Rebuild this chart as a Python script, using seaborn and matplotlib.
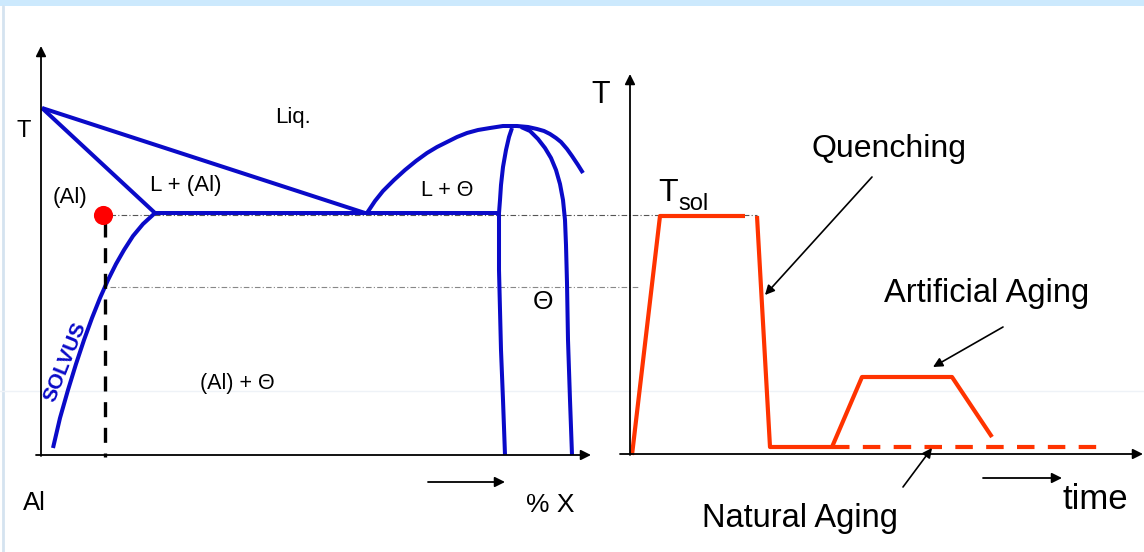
import numpy as np
import pandas as pd
import matplotlib
matplotlib.use("Agg")
import matplotlib.pyplot as plt
import seaborn as sns

# === Curves (pixel units, y grows downward) ===
liquidus_al_x = [42, 365]
liquidus_al_y = [108, 213]
solidus_x = [42, 155]
solidus_y = [108, 213]
eutectic_x = [155, 498]
eutectic_y = [213, 213]
solvus_x = [155, 143, 133, 124, 116, 108, 100, 92, 84, 76, 68, 60, 53]
solvus_y = [213, 224, 236, 250, 264, 280, 298, 318, 340, 364, 390, 418, 448]
liquidus_th_x = [367, 375, 383, 394, 405, 416, 427, 437, 447, 457, 467, 478, 490,
                 503, 517, 528, 537, 544, 550, 556, 561, 567, 572, 578, 583]
liquidus_th_y = [213, 201, 191, 180, 170, 161, 153, 147, 142, 137, 133, 130, 128,
                 126, 126, 127, 129, 131, 134, 138, 142, 149, 156, 165, 173]
theta_left_x = [512, 509, 506, 503, 501, 500, 499, 499, 499, 500, 501, 503, 505]
theta_left_y = [128, 137, 150, 167, 185, 200, 213, 240, 270, 310, 350, 400, 455]
theta_right_x = [521, 530, 538, 545, 551, 556, 560, 563, 565, 566, 567, 568, 570, 572]
theta_right_y = [127, 131, 139, 148, 158, 170, 184, 200, 220, 245, 283, 340, 400, 455]

# heat treatment path (time, T)
heat_x = [632, 660, 745]
heat_y = [455, 216, 216]
quench_x = [757, 770, 832, 862, 952, 992]
quench_y = [216, 447, 447, 377, 377, 437]
natural_x = [832, 1103]
natural_y = [447, 447]

# alloy composition / temperatures
alloy_x = 105
t_sol_y = 215
t_age_y = 287

blue = "#0a0ac8"
red = "#ff3300"

sns.set_theme(style="white")
plt.rcParams["font.family"] = ["Liberation Sans", "DejaVu Sans"]

fig = plt.figure(figsize=(11.44, 5.52), dpi=100)
ax = fig.add_axes([0, 0, 1, 1])
ax.set_xlim(0, 1144)
ax.set_ylim(552, 0)
ax.axis("off")

# === slide decorations ===
ax.axhspan(0, 6, color="#cce9fd", lw=0)
ax.plot([2.5, 2.5], [6, 552], color="#d5e3f0", lw=2)
ax.plot([0, 1144], [391, 391], color="#eef2f7", lw=1)

def curve(xs, ys, color=blue, lw=2.9, **kw):
    d = pd.DataFrame({"x": xs, "y": ys})
    sns.lineplot(data=d, x="x", y="y", sort=False, estimator=None,
                 color=color, lw=lw, ax=ax, solid_capstyle="butt",
                 solid_joinstyle="round", **kw)

def arrow(x0, y0, x1, y1, lw=1.3, ms=15):
    ax.annotate("", xy=(x1, y1), xytext=(x0, y0),
                arrowprops=dict(arrowstyle="-|>", lw=lw, color="black",
                                mutation_scale=ms, shrinkA=0, shrinkB=0))

# === Phase diagram axes ===
arrow(41, 456, 41, 46)
arrow(36, 455, 591, 455)

# guide lines
ax.plot([110, 757], [t_sol_y, t_sol_y], color="#555555", lw=0.8, ls=(0, (5, 2, 1, 2)))
ax.plot([110, 640], [t_age_y, t_age_y], color="#888888", lw=0.8, ls=(0, (5, 2, 1, 2)))

# === Phase boundaries ===
for xs, ys in [(liquidus_al_x, liquidus_al_y), (solidus_x, solidus_y),
               (eutectic_x, eutectic_y), (solvus_x, solvus_y),
               (liquidus_th_x, liquidus_th_y), (theta_left_x, theta_left_y),
               (theta_right_x, theta_right_y)]:
    curve(xs, ys)

ax.plot([alloy_x, alloy_x], [222, 457], color="black", lw=2.4, ls=(0, (4.5, 3.2)))
ax.scatter([103], [t_sol_y], s=190, color="#ff0000", zorder=5, lw=0)

# === Heat treatment diagram ===
arrow(630, 455, 630, 74)
arrow(620, 454, 1143, 454)
curve(heat_x, heat_y, color=red, lw=3)
curve(quench_x, quench_y, color=red, lw=3)
curve(natural_x, natural_y, color=red, lw=3, ls=(0, (4.2, 3.2)))

arrow(872, 177, 765, 295, lw=1.2, ms=14)
arrow(1003, 327, 933, 367, lw=1.2, ms=14)
arrow(903, 487, 932, 448, lw=1.2, ms=14)
arrow(428, 482, 505, 482, lw=1.3, ms=15)
arrow(983, 478, 1062, 478, lw=1.3, ms=15)

# === Labels ===
txt = dict(color="black", ha="center", va="center")
ax.text(24, 131, "T", fontsize=17, **txt)
ax.text(293, 117, "Liq.", fontsize=16, **txt)
ax.text(70, 197, "(Al)", fontsize=16, **txt)
ax.text(186, 186, "L + (Al)", fontsize=16, **txt)
ax.text(447, 190, "L + Θ", fontsize=15.5, **txt)
ax.text(543, 302, "Θ", fontsize=19, **txt)
ax.text(237, 383, "(Al) + Θ", fontsize=15.5, **txt)
ax.text(65, 362, "SOLVUS", fontsize=15, color=blue, fontweight="bold",
        rotation=68, ha="center", va="center")
ax.text(34, 503, "Al", fontsize=18.5, **txt)
ax.text(550, 505, "% X", fontsize=19, **txt)

ax.text(601, 95, "T", fontsize=22, **txt)
ax.text(658, 201, "T", fontsize=23, color="black", ha="left", va="baseline")
ax.text(678, 210, "sol", fontsize=17, color="black", ha="left", va="baseline")
ax.text(889, 157, "Quenching", fontsize=23, color="black", ha="center", va="baseline")
ax.text(987, 302, "Artificial Aging", fontsize=23.5, color="black", ha="center", va="baseline")
ax.text(800, 527, "Natural Aging", fontsize=23.5, color="black", ha="center", va="baseline")
ax.text(1095, 509, "time", fontsize=25, color="black", ha="center", va="baseline")

fig.savefig("out.png", dpi=100)
plt.close(fig)
